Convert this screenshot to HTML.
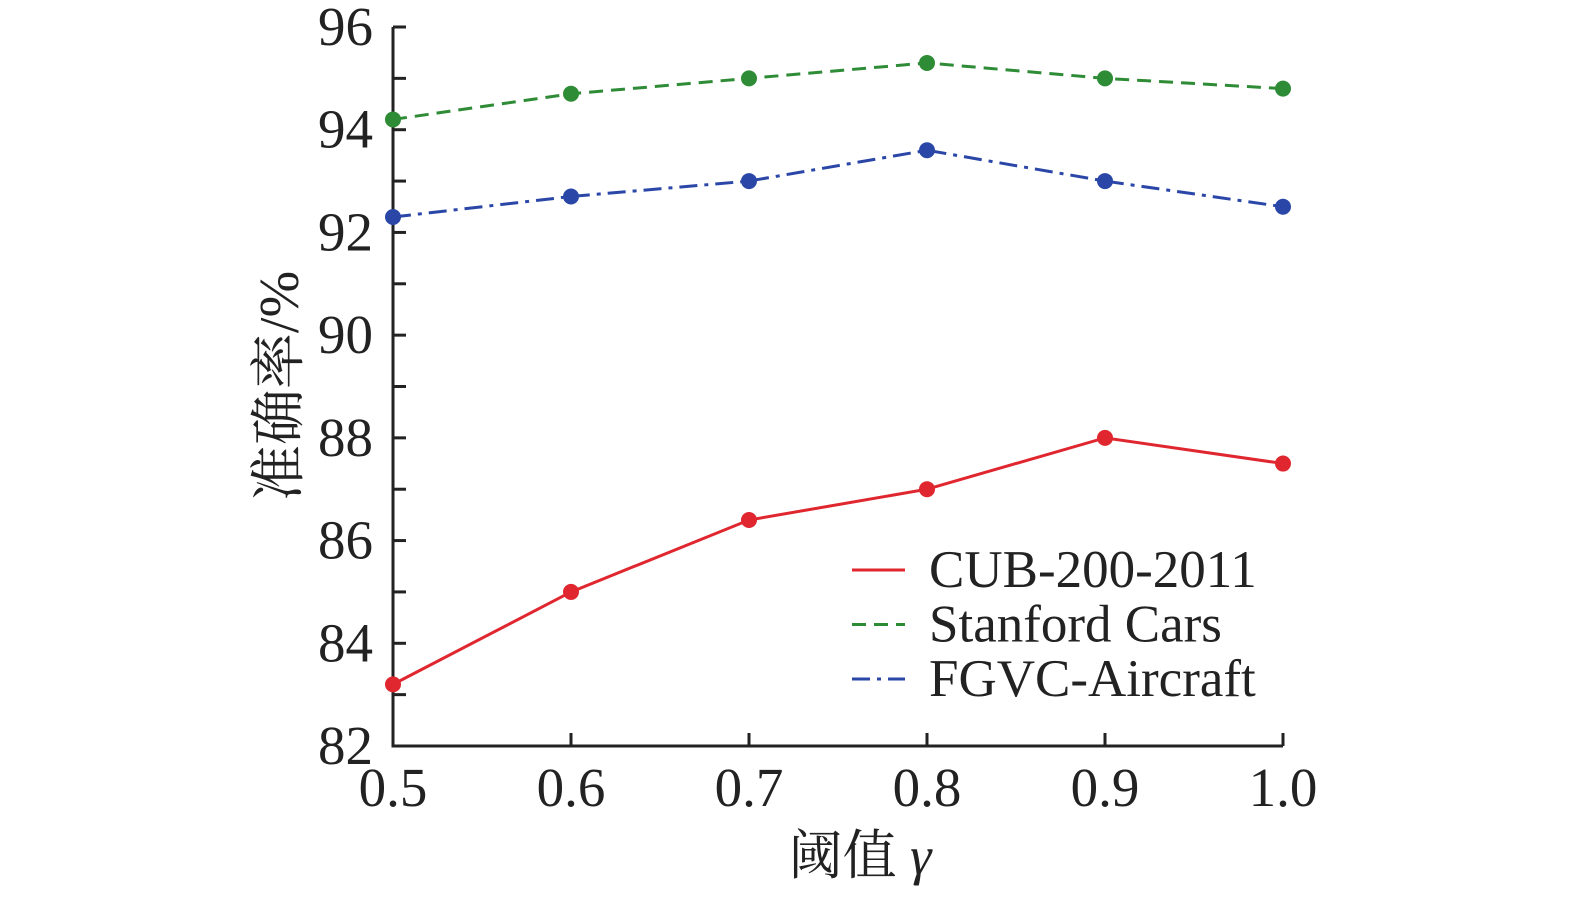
<!DOCTYPE html>
<html><head><meta charset="utf-8"><style>
body{margin:0;background:#fff}
svg text{font-family:"Liberation Serif","Noto Serif CJK SC",serif;fill:#222}
</style></head><body>
<svg id="chart" width="1575" height="893" xmlns="http://www.w3.org/2000/svg"></svg>
<script>
const xCats=[0.5,0.6,0.7,0.8,0.9,1.0];
const xTickLabels=["0.5","0.6","0.7","0.8","0.9","1.0"];
const yTicks=[82,84,86,88,90,92,94,96];
const cub=[83.2,85.0,86.4,87.0,88.0,87.5];
const cars=[94.2,94.7,95.0,95.3,95.0,94.8];
const fgvc=[92.3,92.7,93.0,93.6,93.0,92.5];
const seriesNames=["CUB-200-2011","Stanford Cars","FGVC-Aircraft"];

const NS="http://www.w3.org/2000/svg";
const svg=document.getElementById('chart');
const X0=393,X1=1283,Y0=746,Y1=27;
const xs=v=>X0+(v-0.5)/(1.0-0.5)*(X1-X0);
const ys=v=>Y0-(v-82)/(96-82)*(Y0-Y1);
function mk(t,a,p){const e=document.createElementNS(NS,t);for(const k in a)e.setAttribute(k,a[k]);(p||svg).appendChild(e);return e;}

const ax=mk('path',{d:`M${X0},${Y1}V${Y0}H${X1}`,fill:'none',stroke:'#222','stroke-width':3});


for(let v=83;v<=96;v++){const t=mk('line',{x1:X0,x2:X0+13,y1:ys(v),y2:ys(v),stroke:'#222','stroke-width':3});

}
yTicks.forEach(v=>{const t=mk('text',{x:373,y:ys(v)+18,'font-size':55,'text-anchor':'end'});t.textContent=v;

});
xCats.forEach((v,i)=>{if(i>0){const t=mk('line',{x1:xs(v),x2:xs(v),y1:Y0,y2:Y0-13,stroke:'#222','stroke-width':3});

}
const l=mk('text',{x:xs(v),y:806,'font-size':55,'text-anchor':'middle'});l.textContent=xTickLabels[i];

});
const yl=mk('text',{x:0,y:0,'font-size':56,'text-anchor':'middle',transform:'translate(298,386) rotate(-90)'});yl.textContent='准确率/%';


const xl=mk('text',{x:860,y:874,'font-size':54,'text-anchor':'middle'});xl.innerHTML='阈值 <tspan font-style="italic">γ</tspan>';



const series=[[cub,'#e0262e','none'],[cars,'#2e8b36','14 8'],[fgvc,'#2a47a8','18 7 4 7']];
series.forEach(([vals,c,d],si)=>{
  const pl=mk('polyline',{points:vals.map((v,i)=>xs(xCats[i])+','+ys(v)).join(' '),fill:'none',stroke:c,'stroke-width':3,'stroke-dasharray':d});
  
  
  vals.forEach((v,i)=>{const p=mk('circle',{cx:xs(xCats[i]),cy:ys(v),r:8,fill:c});
  
  });
  const ly=570+si*54.5;
  const ll=mk('line',{x1:852,x2:905,y1:ly,y2:ly,stroke:c,'stroke-width':3,'stroke-dasharray':d});
  
  
  const lt=mk('text',{x:929,y:ly+17,'font-size':53});lt.textContent=seriesNames[si];
  
  
});
</script>
</body></html>
